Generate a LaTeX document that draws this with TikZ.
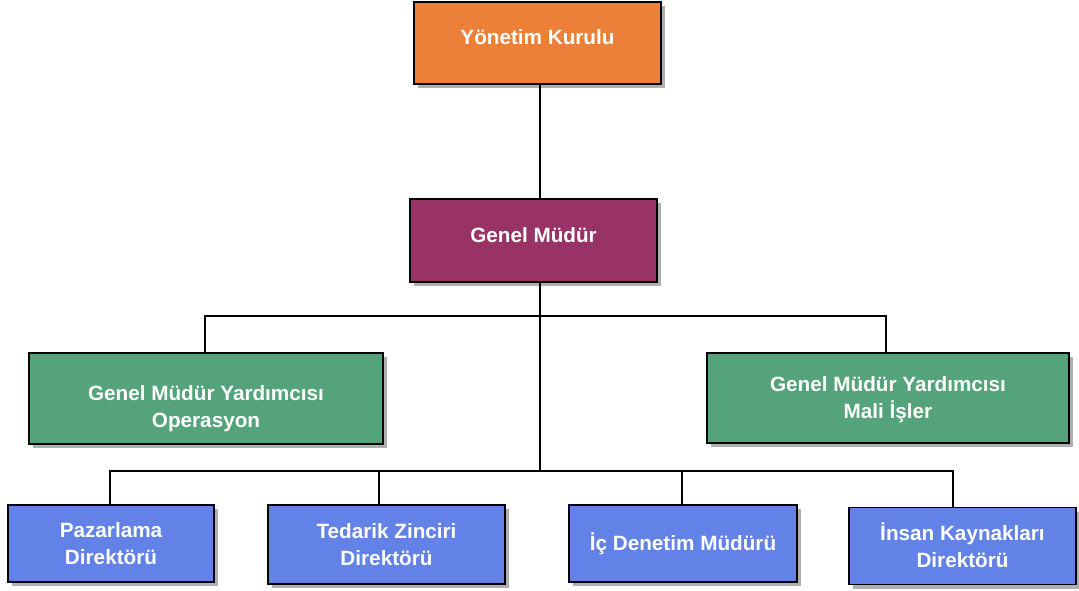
\documentclass[tikz,border=0pt]{standalone}
\usepackage{fontspec}
\setmainfont{Liberation Sans}
\usetikzlibrary{shadows}
\definecolor{cOrange}{RGB}{237,128,56}
\definecolor{cPurple}{RGB}{153,51,102}
\definecolor{cGreen}{RGB}{84,163,122}
\definecolor{cBlue}{RGB}{99,130,232}
\definecolor{cShadow}{RGB}{175,175,175}
\tikzset{
  box/.style={draw=black,line width=1.5pt,rectangle,inner sep=0pt,
    drop shadow={shadow xshift=4pt,shadow yshift=-4pt,fill=cShadow,opacity=1}},
  txt/.style={align=center,text=white,inner sep=0pt,
    font=\fontsize{20.7}{27}\selectfont\bfseries},
  conn/.style={draw=black,line width=1.5pt}
}
\begin{document}
\begin{tikzpicture}[x=1pt,y=-1pt]
\useasboundingbox (0,0) rectangle (1079,590);
\node[box,fill=cOrange,minimum width=247pt,minimum height=82pt,
  label={[txt,yshift=6pt]center:Yönetim Kurulu}] (Y) at (537.5,43) {};
\node[box,fill=cPurple,minimum width=247pt,minimum height=83pt,
  label={[txt,yshift=5pt]center:Genel Müdür}] (GM) at (533.5,240.5) {};
\node[box,fill=cGreen,minimum width=354pt,minimum height=91pt,
  label={[txt,yshift=-10pt]center:Genel Müdür Yardımcısı\\Operasyon}] (Op) at (206,398.5) {};
\node[box,fill=cGreen,minimum width=362pt,minimum height=90pt,
  label={[txt,yshift=-2pt]center:Genel Müdür Yardımcısı\\Mali İşler}] (Mali) at (888,398) {};
\node[box,fill=cBlue,minimum width=206pt,minimum height=77pt,
  label={[txt]center:Pazarlama\\Direktörü}] (Paz) at (111,543.5) {};
\node[box,fill=cBlue,minimum width=237pt,minimum height=79pt,
  label={[txt]center:Tedarik Zinciri\\Direktörü}] (Ted) at (386.5,544.5) {};
\node[box,fill=cBlue,minimum width=228pt,minimum height=77pt,
  label={[txt]center:İç Denetim Müdürü}] (Ic) at (683,543.5) {};
\node[box,fill=cBlue,minimum width=227pt,minimum height=77pt,
  label={[txt,yshift=1pt]center:İnsan Kaynakları\\Direktörü}] (Ins) at (962.5,546) {};
\coordinate (s1) at (540,316);
\coordinate (s2) at (540,471);
\coordinate (dOp) at (205,316);
\coordinate (dMali) at (886,316);
\coordinate (dPaz) at (110,471);
\coordinate (dTed) at (379,471);
\coordinate (dIc) at (682,471);
\coordinate (dIns) at (953,471);
\draw[conn] (Y.south -| s1) -- (GM.north -| s1);
\draw[conn] (GM.south -| s1) -- (s2);
\draw[conn] (Op.north -| dOp) -- (dOp) -- (dMali) -- (Mali.north -| dMali);
\draw[conn] (Paz.north -| dPaz) -- (dPaz) -- (dIns) -- (Ins.north -| dIns);
\draw[conn] (Ted.north -| dTed) -- (dTed);
\draw[conn] (Ic.north -| dIc) -- (dIc);
\end{tikzpicture}
\end{document}
